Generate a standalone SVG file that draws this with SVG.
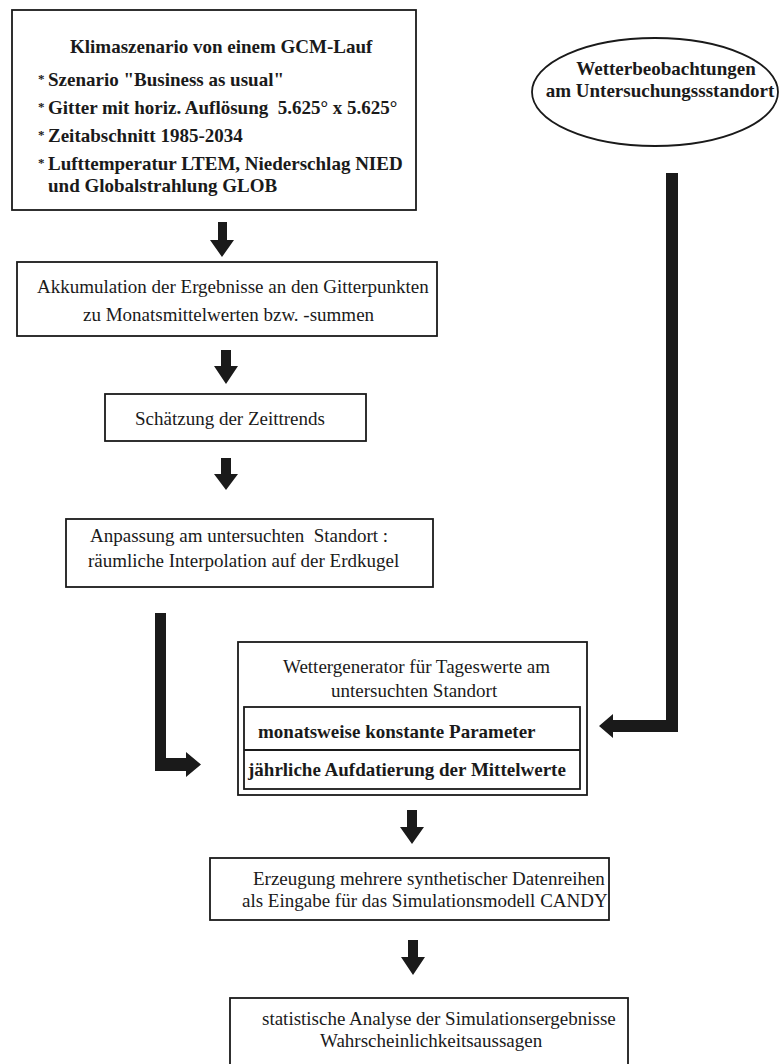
<svg xmlns="http://www.w3.org/2000/svg" width="779" height="1064" viewBox="0 0 779 1064">
<style>
.box{fill:none;stroke:#1a1a1a;stroke-width:1.8}
.t{font-family:"Liberation Serif","Times New Roman",serif;font-size:19px;fill:#1a1a1a;white-space:pre}
.b{font-weight:bold}
.ast{font-family:"Liberation Serif","Times New Roman",serif;font-size:13px;font-weight:bold;fill:#1a1a1a}
.arr{fill:#1a1a1a;stroke:none}
</style>
<rect width="779" height="1064" fill="#ffffff"/>
<g id="gcm">
<rect class="box" x="12" y="10" width="404" height="200"/>
<text class="t b" x="70" y="53">Klimaszenario von einem GCM-Lauf</text>
<text class="ast" x="38" y="83">*</text>
<text class="t b" x="48" y="86">Szenario "Business as usual"</text>
<text class="ast" x="38" y="111">*</text>
<text class="t b" x="48" y="114">Gitter mit horiz. Auflösung  5.625° x 5.625°</text>
<text class="ast" x="38" y="139">*</text>
<text class="t b" x="48" y="142">Zeitabschnitt 1985-2034</text>
<text class="ast" x="38" y="167">*</text>
<text class="t b" x="48" y="170">Lufttemperatur LTEM, Niederschlag NIED</text>
<text class="t b" x="48" y="192">und Globalstrahlung GLOB</text>
</g>
<g id="wetterbeobachtungen">
<ellipse class="box" cx="655" cy="92" rx="123" ry="54"/>
<text class="t b" x="666" y="75" text-anchor="middle">Wetterbeobachtungen</text>
<text class="t b" x="660" y="97" text-anchor="middle">am Untersuchungssstandort</text>
</g>
<g id="akkumulation">
<rect class="box" x="17" y="262" width="420" height="74"/>
<text class="t" x="37" y="293">Akkumulation der Ergebnisse an den Gitterpunkten</text>
<text class="t" x="83" y="321">zu Monatsmittelwerten bzw. -summen</text>
</g>
<g id="zeittrends">
<rect class="box" x="105" y="394" width="261" height="47"/>
<text class="t" x="135" y="425">Schätzung der Zeittrends</text>
</g>
<g id="anpassung">
<rect class="box" x="66" y="519" width="367" height="68"/>
<text class="t" x="90" y="542">Anpassung am untersuchten  Standort :</text>
<text class="t" x="88" y="567">räumliche Interpolation auf der Erdkugel</text>
</g>
<g id="wettergenerator">
<rect class="box" x="238" y="642" width="349" height="153"/>
<text class="t" x="283" y="673">Wettergenerator für Tageswerte am</text>
<text class="t" x="331" y="697">untersuchten Standort</text>
<rect class="box" x="244" y="707" width="336" height="82"/>
<line class="box" x1="244" y1="750" x2="580" y2="750"/>
<text class="t b" x="258" y="738">monatsweise konstante Parameter</text>
<text class="t b" x="248" y="776">jährliche Aufdatierung der Mittelwerte</text>
</g>
<g id="erzeugung">
<rect class="box" x="210" y="858" width="399" height="62"/>
<text class="t" x="253" y="885">Erzeugung mehrere synthetischer Datenreihen</text>
<text class="t" x="242" y="907">als Eingabe für das Simulationsmodell CANDY</text>
</g>
<g id="analyse">
<rect class="box" x="230" y="998" width="398" height="80"/>
<text class="t" x="262" y="1025">statistische Analyse der Simulationsergebnisse</text>
<text class="t" x="320" y="1047">Wahrscheinlichkeitsaussagen</text>
</g>
<g id="connectors">
<polygon class="arr" points="218,222 227,222 227,240 234,240 222,257 210,240 218,240"/>
<polygon class="arr" points="221,350 231,350 231,366 238,366 226,384 214,366 221,366"/>
<polygon class="arr" points="221,458 231,458 231,474 238,474 226,490 214,474 221,474"/>
<polygon class="arr" points="407,810 417,810 417,827 424,827 412,844 400,827 407,827"/>
<polygon class="arr" points="408,940 418,940 418,957 425,957 413,975 401,957 408,957"/>
<polygon class="arr" points="155,613 166,613 166,758 186,758 186,752 201,764.5 186,777 186,771 155,771"/>
<polygon class="arr" points="666,173 678,173 678,732 613,732 613,738 599,726 613,714 613,720 666,720"/>
</g>
</svg>
